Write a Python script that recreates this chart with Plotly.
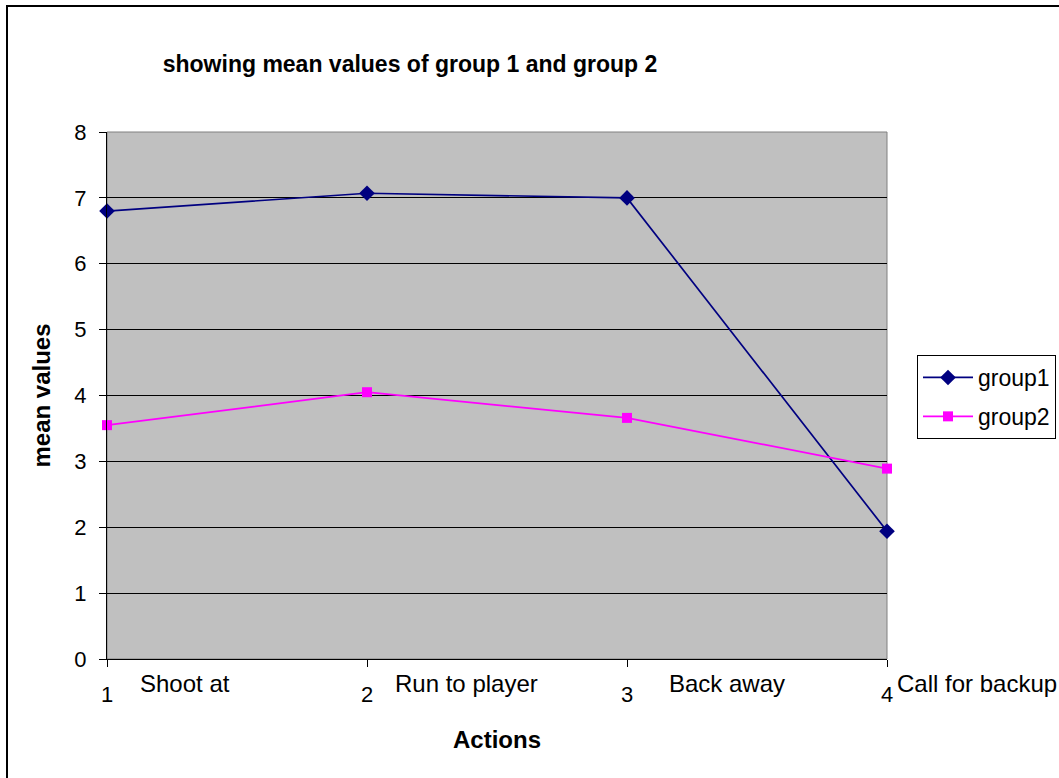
import plotly.graph_objects as go

# ---- data ----
action_numbers = [1, 2, 3, 4]
action_names = ["Shoot at", "Run to player", "Back away", "Call for backup"]
group1 = [6.80, 7.07, 7.00, 1.94]
group2 = [3.55, 4.05, 3.66, 2.89]
y_ticks = [0, 1, 2, 3, 4, 5, 6, 7, 8]

FONT = "Liberation Sans, Arial, sans-serif"
W, H = 1059, 778
L, R, T, B = 107, 172, 132, 119
pw, ph = W - L - R, H - T - B

fig = go.Figure()
fig.add_trace(go.Scatter(
    x=action_numbers, y=group1, name="group1", mode="lines+markers",
    line=dict(color="#000080", width=1.7),
    marker=dict(symbol="diamond", size=12, color="#000080"),
    cliponaxis=False, legendgroup="g1"))
fig.add_trace(go.Scatter(
    x=action_numbers, y=group2, name="group2", mode="lines+markers",
    line=dict(color="#FF00FF", width=1.7),
    marker=dict(symbol="square", size=10, color="#FF00FF"),
    cliponaxis=False, legendgroup="g2"))

# category names placed next to the numeric ticks
name_shift = [31, 26, 40, 8]
for xv, nm, sh in zip(action_numbers, action_names, name_shift):
    fig.add_annotation(x=xv, y=0, xref="x", yref="paper", text=nm,
                       showarrow=False, xanchor="left", yanchor="middle",
                       xshift=sh, yshift=-24,
                       font=dict(family=FONT, size=24, color="black"))

shapes = [
    # plot area border (gray)
    dict(type="rect", xref="paper", yref="paper", x0=0, x1=1, y0=0, y1=1,
         line=dict(color="#808080", width=1), layer="below"),
    # chart outer border (black)
    dict(type="rect", xref="paper", yref="paper",
         x0=(7 - L) / pw, x1=2.0, y0=-1.0, y1=(H - B - 6) / ph,
         line=dict(color="black", width=2), fillcolor="rgba(0,0,0,0)", layer="above"),
]

fig.update_layout(
    width=W, height=H,
    margin=dict(l=L, r=R, t=T, b=B, autoexpand=False),
    paper_bgcolor="white", plot_bgcolor="#C0C0C0",
    font=dict(family=FONT, size=22, color="black"),
    title=dict(text="<b>showing mean values of group 1 and group 2</b>",
               x=(410 - L) / pw, xref="paper", xanchor="center",
               y=1 - 64 / H, yref="container", yanchor="middle",
               font=dict(family=FONT, size=23, color="black")),
    showlegend=True,
    legend=dict(x=(917 - L) / pw, y=(H - B - 355) / ph, xanchor="left", yanchor="top",
                bordercolor="black", borderwidth=1, bgcolor="white",
                font=dict(family=FONT, size=23), tracegroupgap=6, itemwidth=50),
    xaxis=dict(range=[1, 4], tickvals=action_numbers,
               ticktext=[str(v) for v in action_numbers],
               ticks="outside", ticklen=7, tickcolor="black",
               showline=True, linecolor="black", linewidth=1,
               showgrid=False, zeroline=False, ticklabelstandoff=9,
               tickfont=dict(size=22),
               title=dict(text="<b>Actions</b>", standoff=24,
                          font=dict(family=FONT, size=24))),
    yaxis=dict(range=[0, 8], tickvals=y_ticks, ticks="outside", ticklen=7,
               tickcolor="black", showline=True, linecolor="black", linewidth=1,
               showgrid=True, gridcolor="black", gridwidth=1, zeroline=False,
               tickfont=dict(size=22), ticklabelstandoff=8,
               title=dict(text="<b>mean values</b>", standoff=16,
                          font=dict(family=FONT, size=24))),
    shapes=shapes,
)

fig.write_html("out.html", config={"displayModeBar": False},
               post_script="document.body.style.margin='0px';document.body.style.overflow='hidden';")
